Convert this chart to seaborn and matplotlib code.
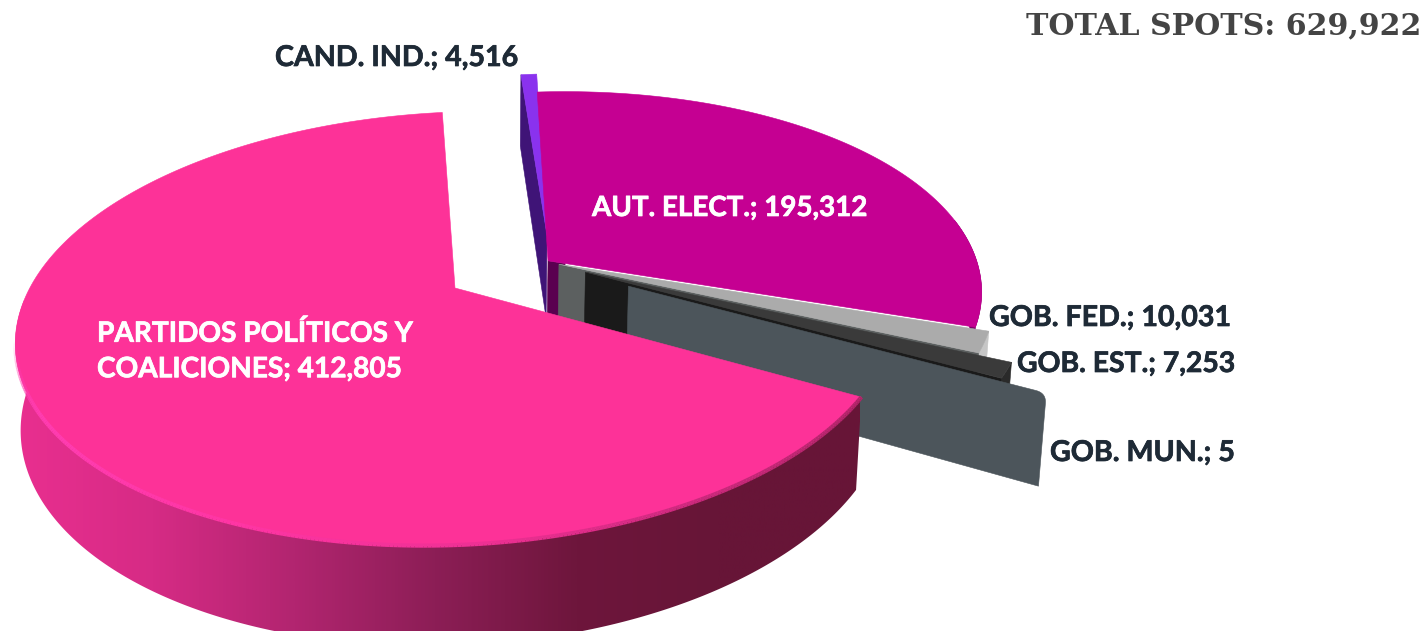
import numpy as np
import matplotlib
matplotlib.use("Agg")
import matplotlib.pyplot as plt
import matplotlib.patheffects as pe
from matplotlib.colors import to_rgb
from matplotlib.patches import Polygon
from matplotlib.collections import LineCollection
from matplotlib.colors import LinearSegmentedColormap
import seaborn as sns

# ---- data (pie order, counter-clockwise from the top) ----
names = ["PARTIDOS POLÍTICOS Y\nCOALICIONES", "GOB. MUN.", "GOB. EST.", "GOB. FED.", "AUT. ELECT.", "CAND. IND."]
values = [412805, 5, 7253, 10031, 195312, 4516]
top_colors = ["#FD3298", "#4C555B", "#3A3A3A", "#ABABAB", "#C50092", "#8A32EE"]
side_colors = ["#6A1538", "#4C555B", "#1A1A1A", "#5C6060", "#5A0050", "#3F1477"]

sns.set_theme(style="white")
W, H = 1426, 631
fig = plt.figure(figsize=(W / 100, H / 100), dpi=100, facecolor="white")
ax = fig.add_axes([0, 0, 1, 1])

# the library computes the slice angles from the values
wedges, _ = ax.pie(values, startangle=92, counterclock=True)
thetas = [(w.theta1, w.theta2) for w in wedges]
for w in wedges:
    w.remove()
ax.set_aspect("auto")
ax.set_xlim(0, W)
ax.set_ylim(H, 0)
ax.axis("off")

# perspective projection of the 3-D disc onto the picture
CX, CY, R, S, K, T, D, M = 455, 288, 432, 209, 0.187, -15, 86, 0.012
explode = {names[0]: (0, 0), "GOB. MUN.": (0.40, 0.02), "GOB. EST.": (0.305, -0.055),
           "GOB. FED.": (0.245, -0.098), "AUT. ELECT.": (0.22, -0.117), "CAND. IND.": (0.223, -0.245)}
radius = {"GOB. MUN.": 0.98}


def proj(u, v, z=0.0):
    den = 1 - K * v + M * z
    return np.column_stack([CX + R * u / den, CY + (S * v + T * u + D * z) / den])


def rim(t1, t2, off, z=0.0, n=160, r=1.0):
    a = np.radians(np.linspace(t1, t2, n))
    return proj(r * np.cos(a) + off[0], -r * np.sin(a) + off[1], z)


def apex(off, z=0.0):
    return proj(np.array([off[0]]), np.array([off[1]]), z)


def poly(pts, color, z):
    p = Polygon(pts, closed=True, facecolor=color, edgecolor=color, lw=0.4, zorder=z)
    ax.add_patch(p)
    return p


def rounded(a, p, b, amount_a, amount_b, n=12):
    """Replace corner p (between a and b) with a small quadratic curve."""
    s = p + (a - p) * amount_a
    e = p + (b - p) * amount_b
    q = np.linspace(0, 1, n)[:, None]
    return (1 - q) ** 2 * s + 2 * q * (1 - q) * p + q ** 2 * e


idx = {n: i for i, n in enumerate(names)}
zo = 2

# CAND. IND.: cut face and top
n = "CAND. IND."
i = idx[n]
t1, t2 = thetas[i]
off = explode[n]
poly(np.vstack([apex(off), rim(t2, t2, off, 0, 2)[:1], rim(t2, t2, off, 1, 2)[:1], apex(off, 1)]), side_colors[i], zo)
poly(np.vstack([apex(off), rim(t1, t2, off)]), top_colors[i], zo + 0.2)
zo += 1

# AUT. ELECT.: short wall, dark foot of the cut face, top
n = "AUT. ELECT."
i = idx[n]
t1, t2 = thetas[i]
off = explode[n]
poly(np.vstack([rim(t1, t1 + 30, off, 0), rim(t1 + 30, t1, off, 0.85)]), "#7A0066", zo)
a0, a1 = apex(off, 0), apex(off, 0.85)
foot = 0.04
r0 = a0 + (rim(t1, t1, off, 0, 2)[:1] - a0) * foot
r1 = a1 + (rim(t1, t1, off, 0.85, 2)[:1] - a1) * foot
poly(np.vstack([a0, r0, r1, a1]), side_colors[i], zo + 0.1)
poly(np.vstack([a0, rim(t1, t2, off)]), top_colors[i], zo + 0.2)
zo += 1

# GOB. FED. / GOB. EST.: thin slices with end wall and cut face
for n, wc in [("GOB. FED.", "#C6C6C6"), ("GOB. EST.", "#2A2A2A")]:
    i = idx[n]
    t1, t2 = thetas[i]
    off = explode[n]
    poly(np.vstack([rim(t1, t2, off, 0), rim(t2, t1, off, 0.85)]), wc, zo)
    poly(np.vstack([apex(off), rim(t1, t1, off, 0, 2)[:1], rim(t1, t1, off, 0.85, 2)[:1], apex(off, 0.85)]),
         side_colors[i], zo + 0.1)
    poly(np.vstack([apex(off), rim(t1, t2, off)]), top_colors[i], zo + 0.2)
    zo += 1

# GOB. MUN.: a slice with almost no width, only its cut face shows
n = "GOB. MUN."
i = idx[n]
t1, t2 = thetas[i]
off = explode[n]
r = radius[n]
A = apex(off, 0)[0]
P = rim(t1, t1, off, 0, 2, r)[0]
B = rim(t1, t1, off, 1, 2, r)[0]
C = apex(off, 1)[0]
poly(np.vstack([A, rounded(A, P, B, 0.025, 0.11), B, C]), side_colors[i], zo)
zo += 1

# main slice with its shaded outer wall
i = idx[names[0]]
t1, t2 = thetas[i]
off = explode[names[0]]
wall_pts = np.vstack([rim(175, t2, off, 0, 300), rim(t2, 175, off, 1, 300)])
clip = Polygon(wall_pts, closed=True, facecolor="none", edgecolor="none", zorder=zo)
ax.add_patch(clip)
wall_cols = sns.blend_palette(["#EA2F90", "#D62B85", "#B22570", "#8C1E56", "#6E163C", "#671537", "#671537"], 256)
wall_cmap = LinearSegmentedColormap.from_list("wall", wall_cols)
im = ax.imshow(np.linspace(0, 1, 512)[None, :], cmap=wall_cmap, extent=(10, 860, 640, 300), aspect="auto", zorder=zo)
im.set_clip_path(clip)
ax.set_xlim(0, W)
ax.set_ylim(H, 0)
poly(np.vstack([apex(off), rim(t1, t2, off, 0, 400)]), top_colors[i], zo + 0.2)

# soft rounded edge between top and wall, fading in at its start
pts = rim(190, t2, off, 0, 300)
segs = np.stack([pts[:-1], pts[1:]], axis=1)
edge_rgb = sns.blend_palette(["#FF3CB0", "#FF3CB0", "#FF35A4", "#EE3094", "#C8287A", "#B02468"], 299)
fade = np.clip(np.arange(299) / 40, 0, 1)
edge_cols = [(*to_rgb(c), a) for c, a in zip(edge_rgb, fade)]
ax.add_collection(LineCollection(segs, colors=edge_cols, linewidths=3.0, zorder=zo + 0.3, capstyle="butt"))

# ---- labels ----
fmt = [f"{n}; {v:,}" for n, v in zip(names, values)]
font = ["Lato", "DejaVu Sans"]
dark = "#1E2A36"


def label(x, y, name, color, size):
    t = ax.text(x, y, fmt[idx[name]], color=color, fontsize=size, fontweight="bold", family=font,
                ha="left", va="center", linespacing=1.45, zorder=30)
    t.set_path_effects([pe.withStroke(linewidth=0.5, foreground=color)])


label(97, 351, names[0], "white", 20.2)
label(592, 208, "AUT. ELECT.", "white", 20.0)
label(275, 58, "CAND. IND.", dark, 20.6)
label(989, 318, "GOB. FED.", dark, 20.6)
label(1017, 364, "GOB. EST.", dark, 20.4)
label(1050, 453, "GOB. MUN.", dark, 20.6)
ax.text(1421, 26, f"TOTAL SPOTS: {sum(values):,}", color="#444444", fontsize=21.6, fontweight="bold",
        family=["DejaVu Serif"], ha="right", va="center", zorder=30)

fig.savefig("out.png", dpi=100, facecolor="white")
